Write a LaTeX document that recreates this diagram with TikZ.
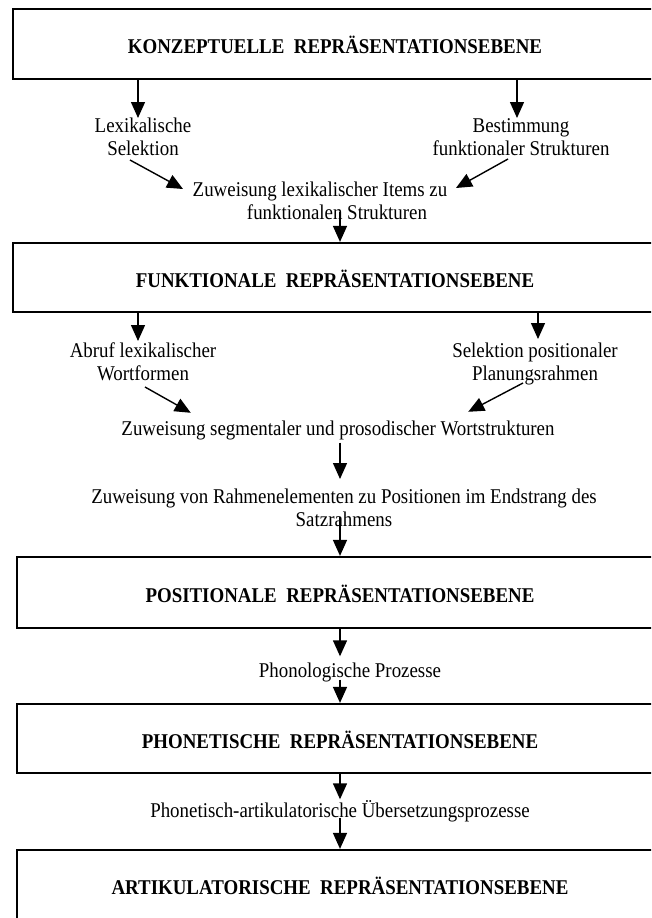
\documentclass[tikz,border=0pt]{standalone}
\usepackage{fontspec}
\setmainfont{Liberation Serif}[FakeStretch=0.9]
\usetikzlibrary{arrows.meta}
\begin{document}
\begin{tikzpicture}[x=1pt,y=-1pt,
  box/.style={draw, line width=2.2pt, minimum height=70pt, inner sep=0pt,
    text height=19pt, text depth=0pt, font=\fontsize{21}{23}\selectfont\bfseries},
  lbl/.style={inner sep=0pt, font=\fontsize{21}{23}\selectfont,
    text height=14.5pt, text depth=4.5pt, anchor=base},
  lbltwo/.style={inner sep=0pt, font=\fontsize{21}{23}\selectfont,
    align=center, anchor=north},
  arr/.style={line width=1.4pt, -{Triangle[length=16pt,width=14pt]}},
]
\useasboundingbox (0,0) rectangle (651,918);
\fill[white] (0,0) rectangle (651,918);
\clip (0,0) rectangle (651,918);
\coordinate (axis) at (340,0);

% levels and processing steps
\node[box, minimum width=644pt] (kbox) at (335,44) {KONZEPTUELLE\ \ REPRÄSENTATIONSEBENE};
\node[lbltwo] (lexsel) at (143,118) {Lexikalische\\Selektion};
\node[lbltwo] (bestimm) at (521,118) {Bestimmung\\funktionaler Strukturen};
\node[lbl] (zuwlex) at (320,196) {Zuweisung lexikalischer Items zu};
\node[lbl] (zuwlexb) at (337,219) {funktionalen Strukturen};
\node[box, minimum width=644pt, minimum height=69pt] (fbox) at (335,277.5) {FUNKTIONALE\ \ REPRÄSENTATIONSEBENE};
\node[lbltwo] (abruf) at (143,343) {Abruf lexikalischer\\Wortformen};
\node[lbltwo] (selpos) at (535,343) {Selektion positionaler\\Planungsrahmen};
\node[lbl] (zuwseg) at (338,435) {Zuweisung segmentaler und prosodischer Wortstrukturen};
\node[lbltwo] (zuwvon) at (344,489) {Zuweisung von Rahmenelementen zu Positionen im Endstrang des\\Satzrahmens};
\node[box, minimum width=646pt, minimum height=71pt] (psbox) at (340,592.5) {POSITIONALE\ \ REPRÄSENTATIONSEBENE};
\node[lbl] (phonproz) at (350,677) {Phonologische Prozesse};
\node[box, minimum width=646pt, minimum height=69pt] (phbox) at (340,738.5) {PHONETISCHE\ \ REPRÄSENTATIONSEBENE};
\node[lbl] (phonart) at (340,817) {Phonetisch-artikulatorische Übersetzungsprozesse};
\node[box, minimum width=646pt] (artbox) at (340,885) {ARTIKULATORISCHE\ \ REPRÄSENTATIONSEBENE};

% connectors
\draw[arr] ([xshift=-5pt]lexsel.north |- kbox.south) -- ([xshift=-5pt]lexsel.north);
\draw[arr] ([xshift=-4pt]bestimm.north |- kbox.south) -- ([xshift=-4pt]bestimm.north);
\draw[arr] ([xshift=-13pt,yshift=-42pt]lexsel.north) -- ([xshift=-9.5pt,yshift=2pt]zuwlex.west);
\draw[arr] ([xshift=-13pt,yshift=-41pt]bestimm.north) -- ([xshift=8.5pt,yshift=3pt]zuwlex.east);
\draw[arr] ([yshift=12pt]zuwlexb.south -| axis) -- (fbox.north -| axis);

\draw[arr] ([xshift=-5pt]abruf.north |- fbox.south) -- ([xshift=-5pt,yshift=2pt]abruf.north);
\draw[arr] ([xshift=3pt]selpos.north |- fbox.south) -- ([xshift=3pt,yshift=4pt]selpos.north);
\draw[arr] ([xshift=2pt,yshift=-44pt]abruf.north) -- ([xshift=69.5pt,yshift=7.5pt]zuwseg.north west);
\draw[arr] ([xshift=-12pt,yshift=-40pt]selpos.north) -- ([xshift=-86.5pt,yshift=8.5pt]zuwseg.north east);
\draw[arr] ([yshift=-3pt]zuwseg.south -| axis) -- ([yshift=10pt]zuwvon.north -| axis);
\draw[arr] ([yshift=10pt]zuwvon.south -| axis) -- (psbox.north -| axis);

\draw[arr] (psbox.south -| axis) -- ([yshift=6pt]phonproz.north -| axis);
\draw[arr] ([yshift=2pt]phonproz.south -| axis) -- (phbox.north -| axis);
\draw[arr] (phbox.south -| axis) -- ([yshift=3pt]phonart.north -| axis);
\draw[arr] ([yshift=4pt]phonart.south -| axis) -- (artbox.north -| axis);
\end{tikzpicture}
\end{document}
